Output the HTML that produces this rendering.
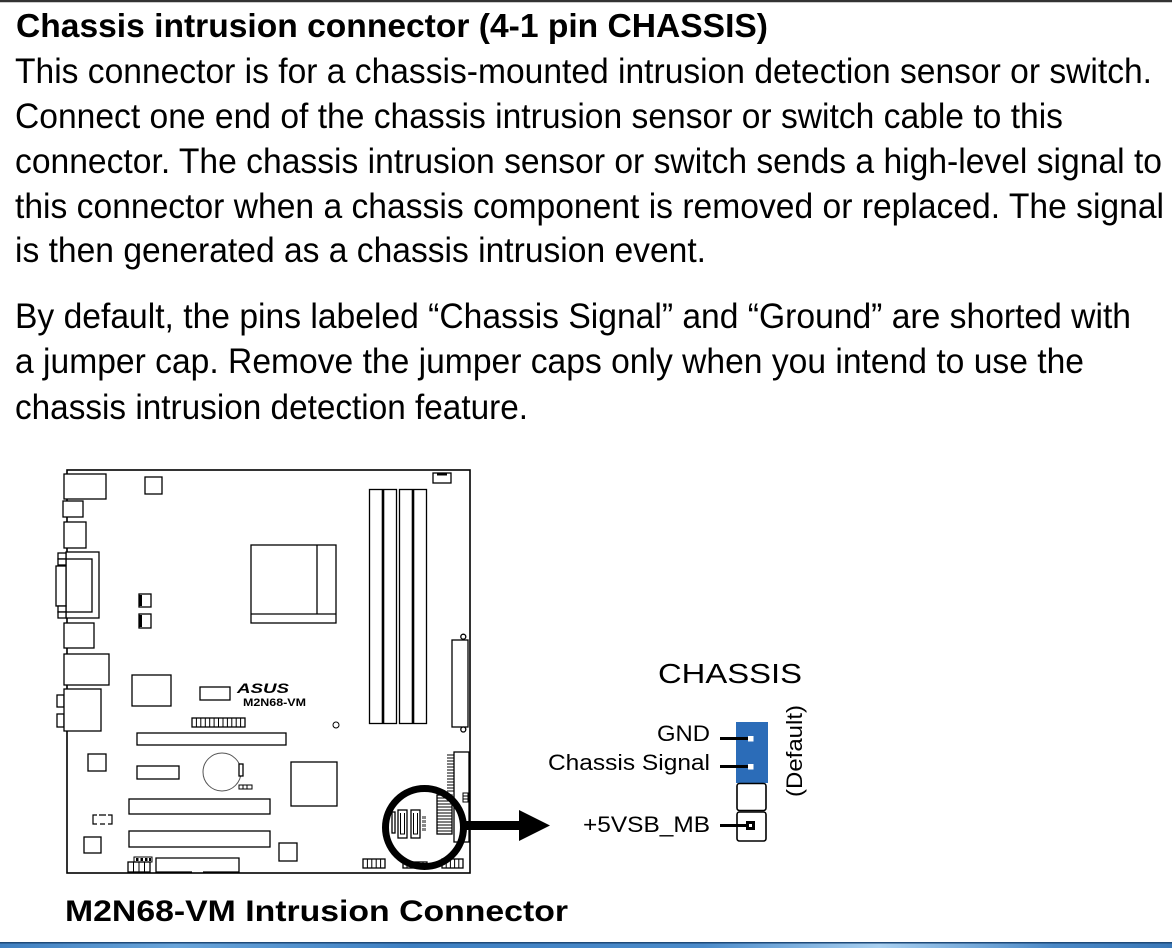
<!DOCTYPE html>
<html>
<head>
<meta charset="utf-8">
<style>
html,body{margin:0;padding:0;background:#fff;}
svg{display:block;}
text{font-family:"Liberation Sans",Arial,sans-serif;fill:#000;}
</style>
</head>
<body>
<svg width="1172" height="948" viewBox="0 0 1172 948" xmlns="http://www.w3.org/2000/svg">
<defs>
<linearGradient id="bar" x1="0" y1="0" x2="1" y2="0">
<stop offset="0" stop-color="#3f7fc0"/>
<stop offset="0.15" stop-color="#6aa5da"/>
<stop offset="0.35" stop-color="#3d7fc2"/>
<stop offset="0.6" stop-color="#4b8bca"/>
<stop offset="0.75" stop-color="#a9d0f0"/>
<stop offset="0.9" stop-color="#4a88c6"/>
<stop offset="1" stop-color="#3a78b8"/>
</linearGradient>
</defs>
<rect x="0" y="0" width="1172" height="948" fill="#fff"/>
<!-- top border -->
<rect x="0" y="0" width="1172" height="2" fill="#333"/>
<rect x="0" y="2" width="1172" height="1" fill="#ccc"/>
<!-- bottom bar -->
<rect x="0" y="942" width="1172" height="1.5" fill="#1f4a78"/>
<rect x="0" y="943.5" width="1172" height="4.5" fill="url(#bar)"/>

<!-- Title & body text -->
<text x="16" y="37" font-size="33" font-weight="bold" textLength="752" lengthAdjust="spacingAndGlyphs">Chassis intrusion connector (4-1 pin CHASSIS)</text>
<g font-size="35">
<text x="15" y="83" textLength="1137" lengthAdjust="spacingAndGlyphs">This connector is for a chassis-mounted intrusion detection sensor or switch.</text>
<text x="15" y="128" textLength="1048" lengthAdjust="spacingAndGlyphs">Connect one end of the chassis intrusion sensor or switch cable to this</text>
<text x="15" y="173" textLength="1147" lengthAdjust="spacingAndGlyphs">connector. The chassis intrusion sensor or switch sends a high-level signal to</text>
<text x="15" y="218" textLength="1149" lengthAdjust="spacingAndGlyphs">this connector when a chassis component is removed or replaced. The signal</text>
<text x="15" y="262" textLength="691" lengthAdjust="spacingAndGlyphs">is then generated as a chassis intrusion event.</text>
<text x="15" y="328" textLength="1116" lengthAdjust="spacingAndGlyphs">By default, the pins labeled “Chassis Signal” and “Ground” are shorted with</text>
<text x="15" y="373" textLength="1069" lengthAdjust="spacingAndGlyphs">a jumper cap. Remove the jumper caps only when you intend to use the</text>
<text x="15" y="419" textLength="513" lengthAdjust="spacingAndGlyphs">chassis intrusion detection feature.</text>
</g>

<!-- Motherboard -->
<g fill="#fff" stroke="#000" stroke-width="1.3">
<rect x="67" y="470" width="403" height="403" stroke-width="1.6"/>
<!-- I/O -->
<rect x="64" y="474" width="42" height="25"/>
<rect x="63" y="501" width="20" height="16"/>
<rect x="64" y="522" width="22" height="26"/>
<rect x="66" y="552" width="33" height="66"/>
<rect x="66" y="559" width="26" height="53"/>
<rect x="56" y="566" width="10" height="40"/>
<rect x="58" y="553" width="8" height="6"/>
<rect x="58" y="559" width="8" height="6"/>
<rect x="58" y="606" width="8" height="6"/>
<rect x="58" y="612" width="8" height="6"/>
<rect x="64" y="623" width="30" height="25"/>
<rect x="64" y="654" width="45" height="31"/>
<rect x="57" y="695" width="7" height="12"/>
<rect x="57" y="714" width="7" height="13"/>
<rect x="64" y="689" width="37" height="42"/>
<!-- misc -->
<rect x="145" y="477" width="17" height="17"/>
<rect x="433" y="473" width="18" height="10"/>
<!-- CPU -->
<rect x="251" y="545" width="85" height="78"/>
<line x1="317" y1="545" x2="317" y2="614"/>
<line x1="251" y1="614" x2="336" y2="614"/>
<!-- DIMMs -->
<rect x="369.5" y="489.5" width="27" height="234"/>
<rect x="399.5" y="489.5" width="27" height="234"/>
<rect x="139" y="594" width="12" height="13"/>
<rect x="139" y="614" width="12" height="14"/>
<!-- right long connector -->
<rect x="452" y="640" width="16" height="87"/>
<circle cx="463.3" cy="636.7" r="2.5"/>
<circle cx="463.3" cy="729.5" r="2.5"/>
<rect x="132" y="675" width="39" height="31"/>
<rect x="200" y="687" width="30" height="13"/>
<circle cx="336" cy="725" r="3" stroke-width="1"/>
<rect x="192" y="718" width="53" height="9"/>
<rect x="137" y="733" width="149" height="12"/>
<rect x="88" y="754" width="18" height="17"/>
<rect x="137" y="766" width="42" height="13"/>
<circle cx="222" cy="772" r="19" stroke="#555" stroke-width="1"/>
<rect x="239" y="764" width="4" height="12"/>
<rect x="239" y="785" width="13" height="4" stroke-width="1"/>
<rect x="291" y="762" width="46" height="44"/>
<rect x="129" y="799" width="141" height="15"/>
<rect x="129" y="831" width="141" height="16"/>
<rect x="84" y="837" width="17" height="16"/>
<rect x="134" y="857" width="18" height="5" stroke-width="1"/>
<rect x="128" y="862" width="22" height="10"/>
<rect x="279" y="843" width="18" height="18"/>
<!-- ATX / right bottom -->
<rect x="454" y="752" width="15" height="90"/>
<rect x="437" y="795" width="15" height="39"/>
<rect x="463" y="793" width="5" height="9" stroke-width="1"/>
<rect x="363" y="859" width="22" height="9"/>
<rect x="403" y="862" width="24" height="6"/>
<rect x="442" y="859" width="21" height="9"/>
</g>
<!-- bottom long slot with gap -->
<path d="M192 872 H156 V858 H239 V872 H203" fill="none" stroke="#000" stroke-width="1.3"/>
<!-- dashed bracket -->
<path d="M97 815 H93 V824 H97 M108 815 H112 V824 H108 M99 815 H106 M100 824 H105" fill="none" stroke="#000" stroke-width="1.2"/>
<!-- DIMM thick center lines -->
<line x1="383" y1="489.5" x2="383" y2="723.5" stroke="#000" stroke-width="2.6"/>
<line x1="413" y1="489.5" x2="413" y2="723.5" stroke="#000" stroke-width="2.6"/>
<!-- black bars -->
<rect x="437" y="473" width="10" height="2.5" fill="#000"/>
<rect x="139" y="595" width="3" height="11" fill="#000"/>
<rect x="139" y="615" width="3" height="12" fill="#000"/>
<!-- comb lines -->
<path d="M196.4 718v9M200.8 718v9M205.3 718v9M209.7 718v9M214.1 718v9M218.5 718v9M223 718v9M227.4 718v9M231.8 718v9M236.2 718v9M240.6 718v9
M367.4 859v9M371.8 859v9M376.2 859v9M380.6 859v9
M407 862v6M411 862v6M415 862v6M419 862v6M423 862v6
M446.2 859v9M450.4 859v9M454.6 859v9M458.8 859v9
M133.5 862v10M139 862v10M144.5 862v10
M243 785v4M247 785v4
M447 755h7M447 758h7M447 761h7M447 764h7M447 767h7M447 770h7M447 773h7M447 776h7M447 779h7M447 782h7M447 785h7M447 788h7M447 791h7
M437 798h15M437 801h15M437 804h15M437 807h15M437 810h15M437 813h15M437 816h15M437 819h15M437 822h15M437 825h15M437 828h15M437 831h15
M463 796h5M463 799h5" fill="none" stroke="#000" stroke-width="1"/>
<g fill="#000">
<rect x="136" y="858" width="2.5" height="3"/><rect x="140.5" y="858" width="2.5" height="3"/><rect x="145" y="858" width="2.5" height="3"/><rect x="149" y="858" width="2" height="3"/>
</g>
<!-- ASUS logo & model -->
<text x="237" y="693" font-size="14" font-weight="bold" font-style="italic" textLength="52" lengthAdjust="spacingAndGlyphs">ASUS</text>
<text x="243" y="706" font-size="11" font-weight="bold" fill="#222" textLength="63" lengthAdjust="spacingAndGlyphs">M2N68-VM</text>

<!-- SATA inside magnifier -->
<g fill="#fff" stroke="#000" stroke-width="1.3">
<rect x="392" y="812" width="3" height="21"/>
<rect x="398" y="810" width="9" height="28"/>
<rect x="411" y="810" width="9" height="28"/>
</g>
<path d="M400.5 813 V834 H404.5 V813 M413.5 813 V834 H417.5 V813" fill="none" stroke="#000" stroke-width="1"/>
<g fill="#888">
<rect x="422" y="816" width="4" height="3"/><rect x="422" y="820" width="4" height="3"/><rect x="422" y="824" width="4" height="3"/><rect x="422" y="828" width="4" height="3"/>
</g>
<!-- magnifier circle and arrow -->
<circle cx="424.5" cy="827.5" r="39" fill="none" stroke="#000" stroke-width="7"/>
<rect x="466" y="821" width="57" height="9" fill="#000"/>
<polygon points="519,810 550,825.5 519,841" fill="#000"/>

<!-- Chassis pin diagram -->
<text x="658" y="683" font-size="28" textLength="144" lengthAdjust="spacingAndGlyphs">CHASSIS</text>
<rect x="736" y="722" width="32" height="61" fill="#2b6cb8"/>
<rect x="748" y="736" width="5.5" height="5.5" fill="#fff"/>
<rect x="748" y="764" width="5.5" height="5.5" fill="#fff"/>
<rect x="737" y="783.5" width="29" height="27" rx="2.5" fill="#fff" stroke="#000" stroke-width="1.6"/>
<rect x="737" y="812" width="29" height="29" rx="2.5" fill="#fff" stroke="#000" stroke-width="1.6"/>
<rect x="746" y="821" width="9" height="9" fill="#000"/>
<rect x="749" y="824" width="3" height="3" fill="#fff"/>
<g stroke="#000" stroke-width="3">
<line x1="720" y1="738.5" x2="748" y2="738.5"/>
<line x1="720" y1="766.5" x2="748" y2="766.5"/>
<line x1="720" y1="825.5" x2="746" y2="825.5"/>
</g>
<g font-size="22">
<text x="710" y="741" text-anchor="end" textLength="53" lengthAdjust="spacingAndGlyphs">GND</text>
<text x="710" y="770" text-anchor="end" textLength="162" lengthAdjust="spacingAndGlyphs">Chassis Signal</text>
<text x="710" y="832" text-anchor="end" textLength="127" lengthAdjust="spacingAndGlyphs">+5VSB_MB</text>
<text transform="translate(802,751) rotate(-90)" x="0" y="0" text-anchor="middle" textLength="92" lengthAdjust="spacingAndGlyphs">(Default)</text>
</g>

<!-- Caption -->
<text x="65" y="921" font-size="30" font-weight="bold" textLength="503" lengthAdjust="spacingAndGlyphs">M2N68-VM Intrusion Connector</text>
</svg>
</body>
</html>
